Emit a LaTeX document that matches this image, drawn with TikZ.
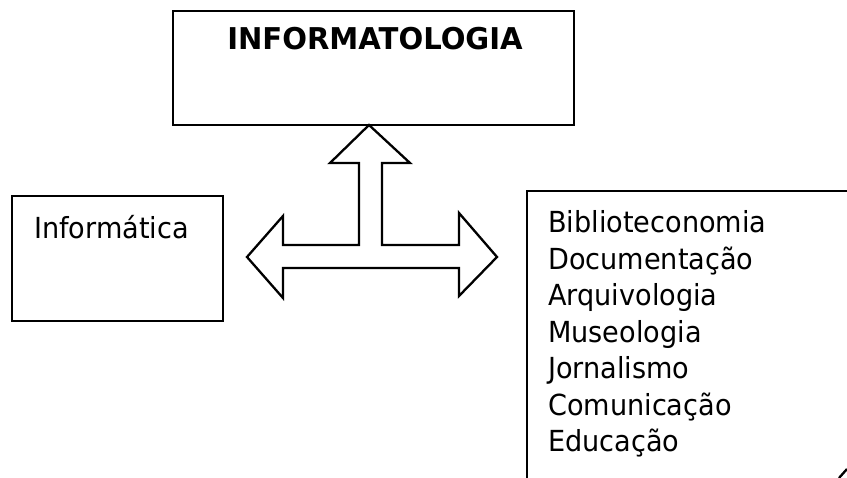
\documentclass[tikz,border=0pt]{standalone}
\usepackage{fontspec}
\setmainfont{DejaVu Sans}[FakeStretch=0.935]
\newfontfamily\topfont{DejaVu Sans}[FakeStretch=0.97]
\begin{document}
\begin{tikzpicture}[x=1pt,y=-1pt,
  box/.style={draw=black, line width=2.3pt, rectangle, inner sep=0pt},
  txt/.style={inner sep=0pt, anchor=base west, font=\fontsize{29}{36}\selectfont},
  bigarrow/.style={draw=black, line width=2.3pt, line join=miter, fill=white}]
\useasboundingbox (0,0) rectangle (847,478);
% top box
\node[box, minimum width=401pt, minimum height=114pt] (top) at (373.5,68) {};
\node[inner sep=0pt, anchor=base, font=\fontsize{30}{36}\topfont\bfseries] (toptxt) at (375,50) {INFORMATOLOGIA};
% left box
\node[box, minimum width=211pt, minimum height=125pt] (left) at (117.5,258.5) {};
\node[txt] (lefttxt) at (34,239) {Informática};
% right box (partly outside the picture)
\coordinate (rtr) at (847,191);
\coordinate (rtl) at (527,191);
\coordinate (rbl) at (527,478);
\draw[line width=2.3pt] (rtr) -- (rtl) -- (rbl);
\foreach \t [count=\i] in {Biblioteconomia,Documentação,Arquivologia,Museologia,Jornalismo,Comunicação,Educação}
  \node[txt] (r\i) at (548,{233+36.5*(\i-1)}) {\t};
% three-way arrow
\draw[bigarrow] (369,125) -- (410,163) -- (382,163) -- (382,245) -- (459,245) -- (459,213)
  -- (497,257) -- (459,296) -- (459,268) -- (283,268) -- (283,298) -- (247,257)
  -- (283,216) -- (283,245) -- (359,245) -- (359,163) -- (330,163) -- cycle;
% corner mark
\coordinate (m1) at (839,478);
\coordinate (m2) at (847,469);
\draw[line width=2.3pt] (m1) -- (m2);
\end{tikzpicture}
\end{document}
